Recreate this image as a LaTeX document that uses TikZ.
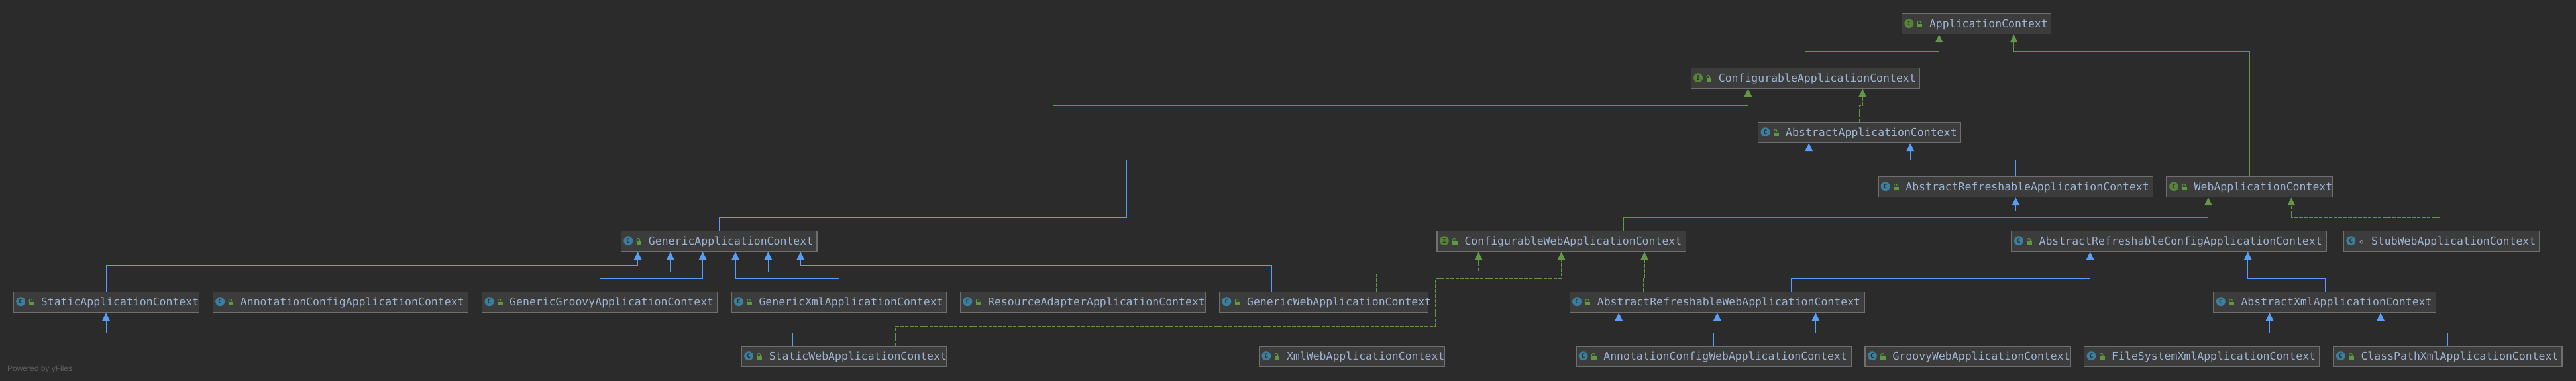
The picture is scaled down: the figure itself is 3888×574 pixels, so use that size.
\documentclass[tikz,border=0pt]{standalone}
\usepackage{fontspec}
\setmainfont{Liberation Sans}
\setmonofont{DejaVu Sans Mono}
\usetikzlibrary{arrows.meta}
\definecolor{bgc}{HTML}{2B2B2B}
\definecolor{boxfill}{HTML}{3C3C3C}
\definecolor{boxline}{HTML}{6F6F6F}
\definecolor{nametxt}{HTML}{9DB3D0}
\definecolor{bluee}{HTML}{589DF6}
\definecolor{greene}{HTML}{629748}
\definecolor{icong}{HTML}{568437}
\definecolor{iconb}{HTML}{3A7F9E}
\definecolor{lockg}{HTML}{5C9A3C}
\definecolor{ringc}{HTML}{868E96}
\definecolor{creditc}{HTML}{5E5E5E}
\tikzset{
  x=0.5pt,y=-0.5pt,
  cbox/.style={draw=boxline,fill=boxfill,line width=0.75pt,rectangle,anchor=north west,
    minimum height=15.7pt,inner xsep=0pt,inner ysep=0pt,outer sep=0pt,text=nametxt,
    font=\ttfamily\fontsize{8.25}{10}\selectfont},
  iconbase/.style={circle,minimum size=7pt,inner sep=0pt,outer sep=0pt,text=bgc,
    font=\ttfamily\bfseries\fontsize{4.6}{5}\selectfont},
  iconI/.style={iconbase,fill=icong},
  iconC/.style={iconbase,fill=iconb},
  blueedge/.style={draw=bluee,line width=0.5pt,shorten >=0.3pt,
    -{Triangle[width=5.8pt,length=5.9pt,fill=bluee]}},
  greenedge/.style={draw=greene,line width=0.5pt,shorten >=0.3pt,
    -{Triangle[width=5.8pt,length=5.9pt,fill=greene]}},
  dashedge/.style={greenedge,dash pattern=on 2.8pt off 0.9pt},
  lockbody/.style={fill=lockg,draw=none},
  lockarc/.style={draw=lockg,line width=0.5pt},
  ringmark/.style={draw=ringc,line width=0.6pt,fill=none},
}
% name, x0, x1, y0, icon style, letter, text
\newcommand{\classbox}[7]{%
  \pgfmathsetlengthmacro{\cw}{(#3-#2)*0.5pt}%
  \node[cbox,minimum width=\cw] (#1) at (#2,#4)
    {\makebox[\cw][l]{\rule[-1.3pt]{0pt}{8.3pt}\hspace*{20.75pt}#7}};
  \node[#5] (#1-ic) at ([xshift=5.4pt,yshift=0.4pt]#1.west) {#6};
}
\newcommand{\openlock}[1]{%
  \fill[lockbody] ([xshift=11.7pt,yshift=0pt]#1.west) rectangle ([xshift=15.4pt,yshift=-2.6pt]#1.west);
  \draw[lockarc] ([xshift=11.9pt,yshift=0pt]#1.west) -- ([xshift=11.9pt,yshift=1.2pt]#1.west)
    arc[start angle=180,end angle=0,radius=1.1pt] -- ++(0,1.5);
}
\newcommand{\ringmark}[1]{%
  \draw[ringmark] ([xshift=13.35pt,yshift=-0.4pt]#1.west) circle[radius=1.1pt];
}
\newcommand{\ibox}[5]{\classbox{#1}{#2}{#3}{#4}{iconI}{I}{#5}\openlock{#1}}
\newcommand{\kbox}[5]{\classbox{#1}{#2}{#3}{#4}{iconC}{C}{#5}\openlock{#1}}
% style, src, xs, dst, xd, ybus
\newcommand{\hop}[6]{%
  \draw[#1] (#2.north -| #3,0) -- (#3,#6) -- (#5,#6) -- (#4.south -| #5,0);
}
\begin{document}
\begin{tikzpicture}
\useasboundingbox (0,0) rectangle (3888,574);
\fill[bgc] (-10,-10) rectangle (3898,584);

\ibox{app}{2870.5}{3095.7}{20.3}{ApplicationContext}
\ibox{conf}{2552.3}{2897.3}{102.3}{ConfigurableApplicationContext}
\kbox{abs}{2653.7}{2959.2}{184.3}{AbstractApplicationContext}
\kbox{absref}{2834.8}{3249.4}{266.3}{AbstractRefreshableApplicationContext}
\ibox{web}{3270.2}{3520.7}{266.3}{WebApplicationContext}

\kbox{gen}{937.4}{1232.8}{348.3}{GenericApplicationContext}
\ibox{confweb}{2169}{2544.6}{348.3}{ConfigurableWebApplicationContext}
\kbox{arconf}{3036.1}{3511.2}{348.3}{AbstractRefreshableConfigApplicationContext}
\classbox{stub}{3537.5}{3832.6}{348.3}{iconC}{C}{StubWebApplicationContext}\ringmark{stub}

\kbox{stat}{20.4}{300.4}{440.3}{StaticApplicationContext}
\kbox{annot}{321.4}{706.6}{440.3}{AnnotationConfigApplicationContext}
\kbox{groovy}{727.7}{1082.3}{440.3}{GenericGroovyApplicationContext}
\kbox{genxml}{1104}{1428.6}{440.3}{GenericXmlApplicationContext}
\kbox{resad}{1449.6}{1819.5}{440.3}{ResourceAdapterApplicationContext}
\kbox{genweb}{1840.6}{2155.6}{440.3}{GenericWebApplicationContext}
\kbox{arweb}{2369.3}{2814.4}{440.3}{AbstractRefreshableWebApplicationContext}
\kbox{absxml}{3341}{3676.3}{440.3}{AbstractXmlApplicationContext}

\kbox{statweb}{1119.3}{1429.2}{522.3}{StaticWebApplicationContext}
\kbox{xmlweb}{1900.5}{2180.5}{522.3}{XmlWebApplicationContext}
\kbox{annotweb}{2378.8}{2794.6}{522.3}{AnnotationConfigWebApplicationContext}
\kbox{groovyweb}{2815}{3125.6}{522.3}{GroovyWebApplicationContext}
\kbox{fsxml}{3145.7}{3501.1}{522.3}{FileSystemXmlApplicationContext}
\kbox{cpxml}{3522}{3867}{522.3}{ClassPathXmlApplicationContext}

% top part
\hop{greenedge}{conf}{2724.5}{app}{2926.6}{77.3}
\hop{greenedge}{web}{3395.4}{app}{3039.5}{77.3}
\hop{dashedge}{abs}{2806.1}{conf}{2811.2}{159.3}
\hop{blueedge}{absref}{3042.1}{abs}{2883.3}{241.3}
\draw[greenedge] (confweb.north -| 2262.1,0) -- (2262.1,318.3) -- (1589.3,318.3) -- (1589.3,159.3)
  -- (2638.4,159.3) -- (conf.south -| 2638.4,0);
\draw[blueedge] (gen.north -| 1085.5,0) -- (1085.5,328.3) -- (1700.3,328.3) -- (1700.3,241.3)
  -- (2730.2,241.3) -- (abs.south -| 2730.2,0);
\hop{greenedge}{confweb}{2450.9}{web}{3332.9}{328.3}
\hop{blueedge}{arconf}{3273.7}{absref}{3042.4}{318.3}
\hop{dashedge}{stub}{3685.1}{web}{3458.3}{328.3}

% GenericApplicationContext family
\hop{blueedge}{stat}{160}{gen}{962.7}{400.5}
\hop{blueedge}{annot}{514.7}{gen}{1011.7}{410.3}
\hop{blueedge}{groovy}{905.6}{gen}{1060.7}{420.3}
\hop{blueedge}{genxml}{1266.6}{gen}{1110}{420.3}
\hop{blueedge}{resad}{1634.6}{gen}{1159.3}{410.3}
\hop{blueedge}{genweb}{1919.6}{gen}{1208.3}{400.5}

% ConfigurableWebApplicationContext family
\hop{dashedge}{genweb}{2077.5}{confweb}{2231.5}{410.3}
\draw[dashedge] (statweb.north -| 1351.4,0) -- (1351.4,492.3) -- (2166.5,492.3) -- (2166.5,420.3)
  -- (2356.5,420.3) -- (confweb.south -| 2356.5,0);
\hop{dashedge}{arweb}{2480.9}{confweb}{2482.1}{420.3}

\hop{blueedge}{arweb}{2703.4}{arconf}{3154.6}{420.3}
\hop{blueedge}{absxml}{3509.3}{arconf}{3392.8}{420.3}

% bottom row
\hop{blueedge}{statweb}{1196.4}{stat}{160}{502.3}
\hop{blueedge}{xmlweb}{2040.2}{arweb}{2443.2}{502.3}
\hop{blueedge}{annotweb}{2586.7}{arweb}{2591.8}{502.3}
\hop{blueedge}{groovyweb}{2970.7}{arweb}{2740.4}{502.3}
\hop{blueedge}{fsxml}{3323.4}{absxml}{3425.5}{502.3}
\hop{blueedge}{cpxml}{3694.6}{absxml}{3593}{502.3}

\node[anchor=west,inner sep=0pt,text=creditc,font=\fontsize{6}{7}\selectfont] (credit) at (10.7,557.7) {Powered by yFiles};
\end{tikzpicture}
\end{document}
